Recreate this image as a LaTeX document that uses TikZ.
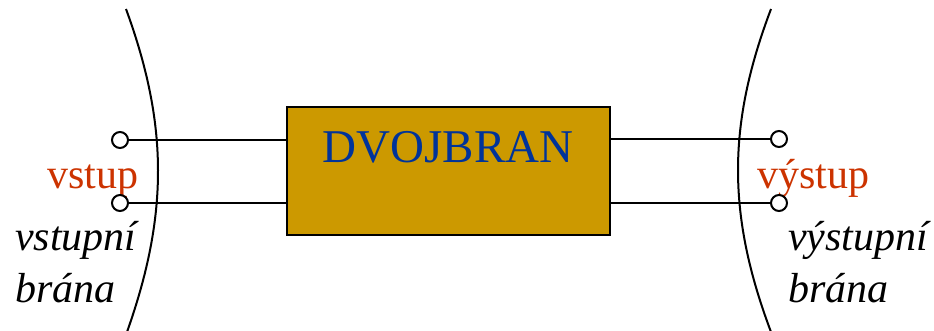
\documentclass[tikz,border=0pt]{standalone}
\usepackage{fontspec}
\setmainfont{Liberation Serif}
\definecolor{boxcolor}{RGB}{204,153,0}
\definecolor{titlecolor}{RGB}{0,51,153}
\definecolor{portcolor}{RGB}{204,51,0}

\begin{document}
\begin{tikzpicture}[x=1pt,y=-1pt]
	\tikzstyle{every node}=[inner sep=0pt]
	\tikzstyle{terminal}=[draw, shape=circle, fill=white, minimum size=16pt, line width=2pt]
	\tikzstyle{wire}=[line width=2pt]
	\tikzstyle{portlabel}=[anchor=base west, text=portcolor, font=\fontsize{42}{48}\selectfont]
	\tikzstyle{gatelabel}=[anchor=base west, font=\fontsize{42}{48}\selectfont\itshape]
	\useasboundingbox (0,0) rectangle (934,330);
	% gates
	\draw [wire] (126,9) .. controls (168.5,125) and (168.5,215) .. (127,332);
	\draw [wire] (771,9) .. controls (727,125) and (727,215) .. (771,332);
	% two-port box
	\node (box) [draw, fill=boxcolor, line width=2pt, minimum width=323pt, minimum height=128pt] at (448.5,171) {};
	\node (title) [anchor=base, text=titlecolor, font=\fontsize{47}{50}\selectfont] at (448,162) {DVOJBRAN};
	% labels
	\node (inlabel) [portlabel] at (47,188) {vstup};
	\node (outlabel) [portlabel] at (757,188) {výstup};
	\node (ingate) [gatelabel] at (15,250) {vstupní};
	\node (ingate2) [gatelabel] at (15,302) {brána};
	\node (outgate) [gatelabel] at (788,250) {výstupní};
	\node (outgate2) [gatelabel] at (788,302) {brána};
	% terminals
	\node (in1) [terminal] at (120,140) {};
	\node (in2) [terminal] at (120,203) {};
	\node (out1) [terminal] at (779,139) {};
	\node (out2) [terminal] at (779,203) {};
	\draw [wire] (in1) -- (in1 -| box.west);
	\draw [wire] (in2) -- (in2 -| box.west);
	\draw [wire] (out1) -- (out1 -| box.east);
	\draw [wire] (out2) -- (out2 -| box.east);
\end{tikzpicture}
\end{document}
